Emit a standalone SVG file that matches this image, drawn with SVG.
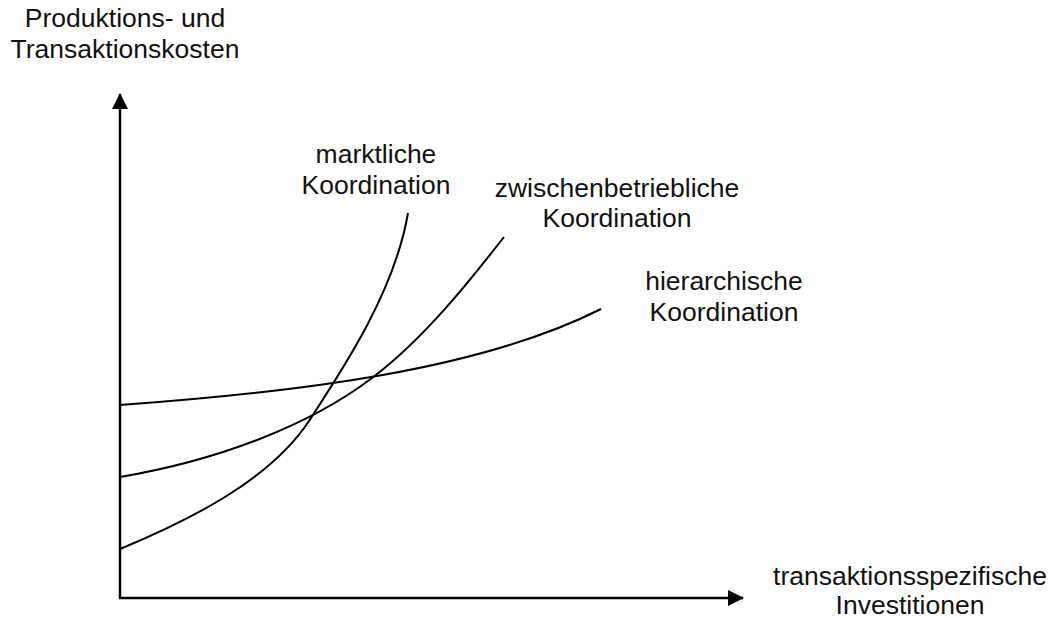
<svg xmlns="http://www.w3.org/2000/svg" width="1053" height="619" viewBox="0 0 1053 619">
  <style>
    .lbl { font-family: "Liberation Sans", Arial, sans-serif; font-size: 26.5px; fill: #111; text-anchor: middle; }
    .axis { stroke: #000; stroke-width: 2.5; fill: none; }
    .curve { stroke: #000; stroke-width: 2; fill: none; }
  </style>
  <defs>
    <marker id="arrow" viewBox="0 0 16 16" refX="15" refY="8" markerWidth="16" markerHeight="16" markerUnits="userSpaceOnUse" orient="auto">
      <path d="M0,0 L16,8 L0,16 Z" fill="#000"/>
    </marker>
  </defs>
  <rect width="1053" height="619" fill="#fff"/>

  <!-- axes -->
  <g id="axes">
    <path class="axis" d="M120,598 L120,94" marker-end="url(#arrow)"/>
    <path class="axis" d="M119,598 L743,598" marker-end="url(#arrow)"/>
  </g>

  <!-- axis labels -->
  <g id="y-label">
    <text class="lbl" x="125" y="27">Produktions- und</text>
    <text class="lbl" x="125" y="58">Transaktionskosten</text>
  </g>
  <g id="x-label">
    <text class="lbl" x="910" y="585">transaktionsspezifische</text>
    <text class="lbl" x="910" y="614">Investitionen</text>
  </g>

  <!-- cost curves -->
  <g id="connectors">
    <path id="curve-markt" class="curve" d="M120,549 C190,520 270,480 309,421 C345,366 395,290 408,213"/>
    <path id="curve-zwischen" class="curve" d="M120,477 C220,460 310,425 372,378 C425,338 472,278 504,237"/>
    <path id="curve-hier" class="curve" d="M120,405 C300,392 480,370 601,309"/>
  </g>

  <!-- curve labels -->
  <g id="label-markt">
    <text class="lbl" x="376" y="163">marktliche</text>
    <text class="lbl" x="376" y="194">Koordination</text>
  </g>
  <g id="label-zwischen">
    <text class="lbl" x="617" y="197">zwischenbetriebliche</text>
    <text class="lbl" x="617" y="227">Koordination</text>
  </g>
  <g id="label-hier">
    <text class="lbl" x="724" y="290">hierarchische</text>
    <text class="lbl" x="724" y="321">Koordination</text>
  </g>
</svg>
